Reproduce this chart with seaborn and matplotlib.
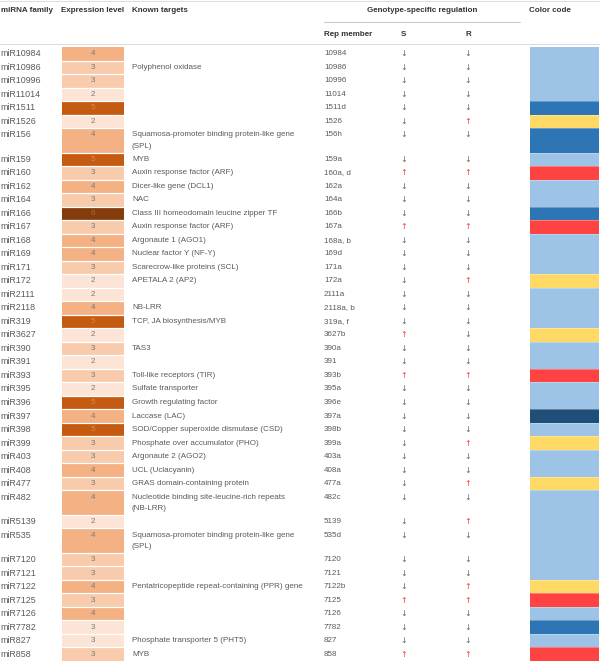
import numpy as np
import pandas as pd
import matplotlib
matplotlib.use("Agg")
import matplotlib.pyplot as plt
from matplotlib.colors import ListedColormap
import seaborn as sns

sns.set_theme(style="white")
plt.rcParams['font.family'] = ['Liberation Sans', 'DejaVu Sans']

# ---------------- data ----------------
families = ["miR10984", "miR10986", "miR10996", "miR11014", "miR1511", "miR1526", "miR156",
            "miR159", "miR160", "miR162", "miR164", "miR166", "miR167", "miR168", "miR169",
            "miR171", "miR172", "miR2111", "miR2118", "miR319", "miR3627", "miR390", "miR391",
            "miR393", "miR395", "miR396", "miR397", "miR398", "miR399", "miR403", "miR408",
            "miR477", "miR482", "miR5139", "miR535", "miR7120", "miR7121", "miR7122", "miR7125",
            "miR7126", "miR7782", "miR827", "miR858"]
expression = [4, 3, 3, 2, 5, 2, 4, 5, 3, 4, 3, 6, 3, 4, 4, 3, 2, 2, 4, 5, 2, 3, 2, 3, 2, 5, 4,
              5, 3, 3, 4, 3, 4, 2, 4, 3, 3, 4, 3, 4, 3, 3, 3]
# shade used for the cell fill (two rows are drawn paler than their level)
expr_shade = [4, 3, 3, 2, 5, 2, 4, 5, 3, 4, 3, 6, 3, 4, 4, 3, 2, 2, 4, 5, 2, 3, 2, 3, 2, 5, 4,
              5, 3, 3, 4, 3, 4, 2, 4, 3, 3, 4, 3, 4, 2, 2, 3]
targets = ["", "Polyphenol oxidase", "", "", "", "",
           "Squamosa-promoter binding protein-like gene\n(SPL)",
           "MYB", "Auxin response factor (ARF)", "Dicer-like gene (DCL1)", "NAC",
           "Class III homeodomain leucine zipper TF", "Auxin response factor (ARF)",
           "Argonaute 1 (AGO1)", "Nuclear factor Y (NF-Y)", "Scarecrow-like proteins (SCL)",
           "APETALA 2 (AP2)", "", "NB-LRR", "TCP, JA biosynthesis/MYB", "", "TAS3", "",
           "Toll-like receptors (TIR)", "Sulfate transporter", "Growth regulating factor",
           "Laccase (LAC)", "SOD/Copper superoxide dismutase (CSD)",
           "Phosphate over accumulator (PHO)", "Argonaute 2 (AGO2)", "UCL (Uclacyanin)",
           "GRAS domain-containing protein",
           "Nucleotide binding site-leucine-rich repeats\n(NB-LRR)", "",
           "Squamosa-promoter binding protein-like gene\n(SPL)", "", "",
           "Pentatricopeptide repeat-containing (PPR) gene", "", "", "",
           "Phosphate transporter 5 (PHT5)", "MYB"]
rep_member = ["10984", "10986", "10996", "11014", "1511d", "1526", "156h", "159a", "160a, d",
              "162a", "164a", "166b", "167a", "168a, b", "169d", "171a", "172a", "2111a",
              "2118a, b", "319a, f", "3627b", "390a", "391", "393b", "395a", "396e", "397a",
              "398b", "399a", "403a", "408a", "477a", "482c", "5139", "535d", "7120", "7121",
              "7122b", "7125", "7126", "7782", "827", "858"]
reg_S = ["down", "down", "down", "down", "down", "down", "down", "down", "up", "down", "down",
         "down", "up", "down", "down", "down", "down", "down", "down", "down", "up", "down",
         "down", "up", "down", "down", "down", "down", "down", "down", "down", "down", "down",
         "down", "down", "down", "down", "down", "up", "down", "down", "down", "up"]
reg_R = ["down", "down", "down", "down", "down", "up", "down", "down", "up", "down", "down",
         "down", "up", "down", "down", "down", "up", "down", "down", "down", "down", "down",
         "down", "up", "down", "down", "down", "down", "up", "down", "down", "up", "down",
         "up", "down", "down", "down", "up", "up", "down", "down", "down", "up"]
color_code = ["light blue", "light blue", "light blue", "light blue", "blue", "yellow", "blue",
              "light blue", "red", "light blue", "light blue", "blue", "red", "light blue",
              "light blue", "light blue", "yellow", "light blue", "light blue", "light blue",
              "yellow", "light blue", "light blue", "red", "light blue", "light blue",
              "dark blue", "light blue", "yellow", "light blue", "light blue", "yellow",
              "light blue", "light blue", "light blue", "light blue", "light blue", "yellow",
              "red", "light blue", "blue", "light blue", "red"]

# ---------------- styling ----------------
W, H = 600, 661
expr_colors = ["#FCE4D6", "#F8CBAD", "#F4B183", "#C55A11", "#843C0C"]   # levels 2..6
code_names = ["light blue", "blue", "dark blue", "yellow", "red"]
code_colors = ["#9DC3E6", "#2E75B6", "#1F4E79", "#FFD966", "#FF4343"]
TXT = "#5a5a5a"
HDR = "#333333"
FS = 5.8
FS_FAM = 6.4

fig = plt.figure(figsize=(W / 100, H / 100), dpi=100)

# row layout (units): single-line rows 11, two-line rows 20
units = np.array([20 if "\n" in t else 11 for t in targets])
top_px, bot_px = 47.0, 661.0
total_units = units.sum()
scale = (bot_px - top_px) / total_units
edges_u = np.concatenate([[0], np.cumsum(units)])
row_top_px = top_px + edges_u[:-1] * scale
row_y = row_top_px + 11 * scale / 2  # first text line centre


def px_axes(x0, y0, x1, y1):
    return fig.add_axes([x0 / W, 1 - y1 / H, (x1 - x0) / W, (y1 - y0) / H])


# expression column heatmap
ax_e = px_axes(62, top_px, 124, bot_px)
expr_grid = pd.DataFrame({"level": np.repeat(expr_shade, units)})
sns.heatmap(expr_grid, ax=ax_e, cmap=ListedColormap(expr_colors), vmin=1.5, vmax=6.5,
            cbar=False, xticklabels=False, yticklabels=False)
for e in edges_u[1:-1]:
    ax_e.axhline(e, color="white", lw=0.9)
ax_e.axis("off")

# color-code column heatmap
ax_c = px_axes(530, top_px, 599, bot_px)
code_idx = [code_names.index(c) for c in color_code]
code_grid = pd.DataFrame({"code": np.repeat(code_idx, units)})
sns.heatmap(code_grid, ax=ax_c, cmap=ListedColormap(code_colors), vmin=-0.5, vmax=4.5,
            cbar=False, xticklabels=False, yticklabels=False)
for i in range(1, len(code_idx)):
    if code_idx[i] != code_idx[i - 1]:
        ax_c.axhline(edges_u[i], color="white", lw=0.6, alpha=0.35)
ax_c.axis("off")

# text overlay axes (on top)
ax = fig.add_axes([0, 0, 1, 1])
ax.patch.set_alpha(0)
ax.set_xlim(0, W)
ax.set_ylim(H, 0)
ax.axis("off")

# header
ax.plot([0, W], [1, 1], color="#dddddd", lw=0.8)
ax.plot([0, W], [43.5, 43.5], color="#dddddd", lw=0.8)
ax.plot([324, 520], [22, 22], color="#cccccc", lw=0.8)
hk = dict(fontsize=FS, fontweight="bold", color=HDR, va="center")
ax.text(1, 10.5, "miRNA family", ha="left", **hk)
ax.text(61, 10.5, "Expression level", ha="left", **hk)
ax.text(132, 10.5, "Known targets", ha="left", **hk)
ax.text(422, 10.5, "Genotype-specific regulation", ha="center", **hk)
ax.text(529, 10.5, "Color code", ha="left", **hk)
ax.text(324, 34, "Rep member", ha="left", **hk)
ax.text(401, 34, "S", ha="left", **hk)
ax.text(466, 34, "R", ha="left", **hk)

arrow = {"down": ("\u2193", "#666666"), "up": ("\u2191", "#ff3b3b")}
for i in range(len(families)):
    y = row_y[i]
    ax.text(0.5, y, families[i], fontsize=FS_FAM, color=TXT, va="center", ha="left")
    lvl_col = "#7a7a7a" if expr_shade[i] <= 4 else "#e08a4a"
    if expr_shade[i] == 6:
        lvl_col = "#b06a30"
    ax.text(93, y, str(expression[i]), fontsize=FS, color=lvl_col, va="center", ha="center")
    for k, line in enumerate(targets[i].split("\n")):
        if line:
            ax.text(132, y + k * 11.2, line, fontsize=FS, color=TXT, va="center", ha="left")
    ax.text(324, y, rep_member[i], fontsize=FS, color=TXT, va="center", ha="left")
    s, sc = arrow[reg_S[i]]
    r, rc = arrow[reg_R[i]]
    ax.text(404, y, s, fontsize=FS, color=sc, va="center", ha="center",
            family=["DejaVu Sans"])
    ax.text(468, y, r, fontsize=FS, color=rc, va="center", ha="center",
            family=["DejaVu Sans"])

fig.savefig("out.png", dpi=100)
